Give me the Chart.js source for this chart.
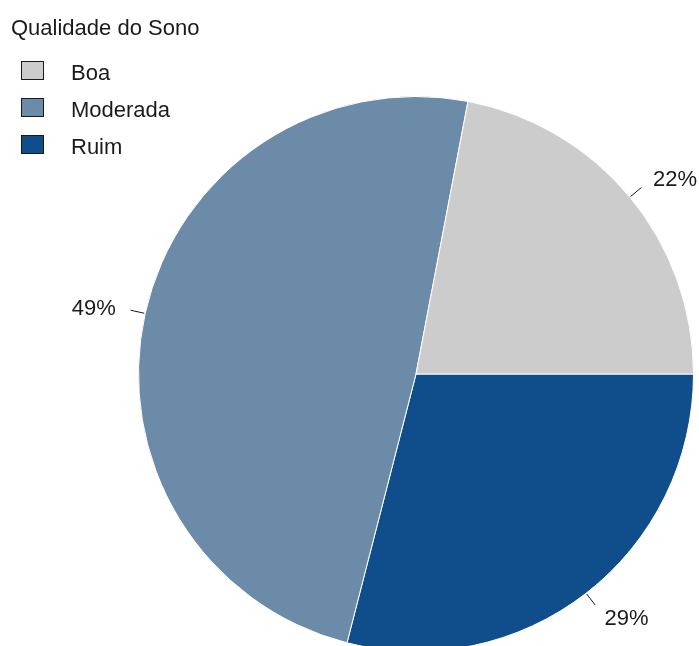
<!DOCTYPE html>
<html>
<head>
<meta charset="utf-8">
<script src="https://cdn.jsdelivr.net/npm/chart.js@4"></script>
<style>
  html, body { margin: 0; padding: 0; background: #ffffff; overflow: hidden; }
  canvas { display: block; }
</style>
</head>
<body>
<canvas id="pie" width="699" height="660"></canvas>
<script>
// Sleep quality shares (percent), listed in the order they appear in the legend
const categories = ["Boa", "Moderada", "Ruim"];
const shares = [22, 49, 29];
const sliceColors = ["#cccccc", "#6c8ba8", "#104e8b"];
const legendTitle = "Qualidade do Sono";

const FONT = '"Liberation Sans", Arial, sans-serif';

// slices run clockwise from 3 o'clock, so feed them in reverse
const pieLabels = categories.slice().reverse();
const pieValues = shares.slice().reverse();
const pieColors = sliceColors.slice().reverse();

// percent labels with short leader ticks outside the pie
const outsideLabels = {
    id: "outsideLabels",
    afterDatasetsDraw(chart) {
        const ctx = chart.ctx;
        const meta = chart.getDatasetMeta(0);
        ctx.save();
        ctx.font = "22px " + FONT;
        ctx.fillStyle = "#1a1a1a";
        ctx.strokeStyle = "#1a1a1a";
        ctx.lineWidth = 1;
        meta.data.forEach((arc, i) => {
            const p = arc.getProps(["x", "y", "startAngle", "endAngle", "outerRadius"], true);
            const mid = (p.startAngle + p.endAngle) / 2;
            const cx = Math.cos(mid), cy = Math.sin(mid);
            ctx.beginPath();
            ctx.moveTo(p.x + cx * (p.outerRadius + 1), p.y + cy * (p.outerRadius + 1));
            ctx.lineTo(p.x + cx * (p.outerRadius + 15), p.y + cy * (p.outerRadius + 15));
            ctx.stroke();
            const r = p.outerRadius + 30;
            ctx.textAlign = cx >= 0 ? "left" : "right";
            ctx.textBaseline = "middle";
            ctx.fillText(pieValues[i] + "%", p.x + cx * r, p.y + cy * r + 2);
        });
        ctx.restore();
    }
};

// legend block in the top-left corner
const cornerLegend = {
    id: "cornerLegend",
    afterDraw(chart) {
        const ctx = chart.ctx;
        ctx.save();
        ctx.fillStyle = "#1a1a1a";
        ctx.font = "22px " + FONT;
        ctx.textAlign = "left";
        ctx.textBaseline = "alphabetic";
        ctx.fillText(legendTitle, 11, 35);
        categories.forEach((name, i) => {
            const y = 61 + i * 37;
            ctx.fillStyle = sliceColors[i];
            ctx.fillRect(21, y, 23, 19);
            ctx.strokeStyle = "#1a1a1a";
            ctx.lineWidth = 1;
            ctx.strokeRect(21.5, y + 0.5, 22, 18);
            ctx.fillStyle = "#1a1a1a";
            ctx.fillText(name, 71, y + 19);
        });
        ctx.restore();
    }
};

const pieConfig = {
    type: "pie",
    data: {
        labels: pieLabels,
        datasets: [
            {
                data: pieValues,
                backgroundColor: pieColors,
                borderColor: "#ffffff",
                borderWidth: 1,
            },
        ],
    },
    options: {
        responsive: false,
        animation: false,
        rotation: 90,
        layout: {
            padding: { left: 138, right: 5, top: 96, bottom: 8 },
        },
        plugins: {
            legend: { display: false },
            tooltip: { enabled: false },
        },
        events: [],
    },
    plugins: [outsideLabels, cornerLegend],
};

const pieCtx = document.getElementById("pie");
window.myPie = new Chart(pieCtx, pieConfig);
</script>
</body>
</html>
